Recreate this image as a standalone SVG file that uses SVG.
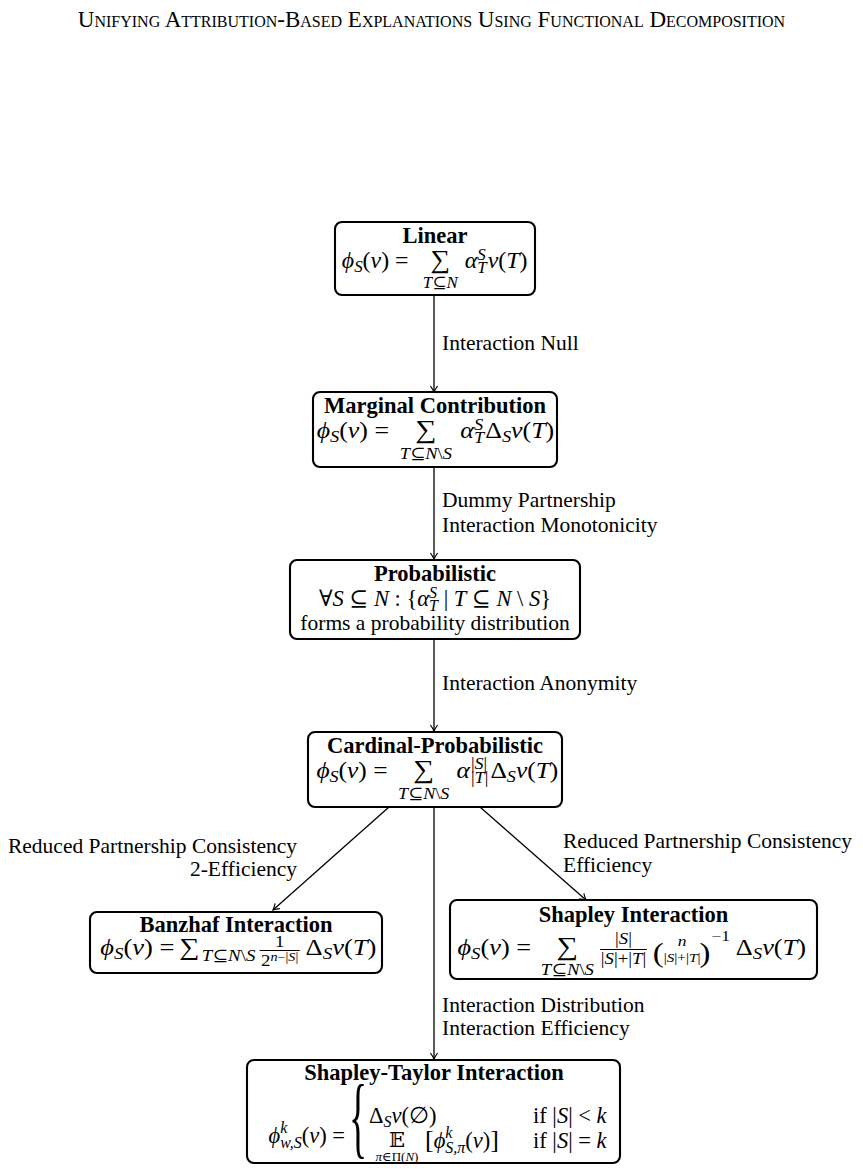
<svg xmlns="http://www.w3.org/2000/svg" width="863" height="1172" viewBox="0 0 863 1172">
<style>
.n{fill:none;stroke:#000;stroke-width:2.1}
.c{fill:none;stroke:#000;stroke-width:1.3}
.bar{stroke:#000;stroke-width:1}
text{font-family:'Liberation Serif','DejaVu Serif',serif;fill:#000}
.l{font-size:21.5px}
.h{font-size:22.5px;font-weight:bold}
.m{font-size:22.5px}
.i{font-style:italic}
.s{font-size:16px}
.f{font-size:15px}
.ss{font-size:11px}
.s2{font-size:12px}
.op{font-size:26px}
.op2{font-size:24px}
.hd{font-size:23px;font-variant:small-caps}
.bb{font-family:'DejaVu Serif','DejaVu Sans',serif;font-size:21px}
</style>
<defs>
<marker id="ah" viewBox="-7 -5 8 10" refX="0" refY="0" markerWidth="8" markerHeight="10" markerUnits="userSpaceOnUse" orient="auto">
<path d="M-6,-3.6 Q-2.4,-1 0,0 Q-2.4,1 -6,3.6" fill="none" stroke="#000" stroke-width="1.2"/>
</marker>
</defs>
<rect width="863" height="1172" fill="#fff"/>
<text class="hd" x="431.5" y="27" text-anchor="middle">Unifying Attribution-Based Explanations Using Functional Decomposition</text>

<g id="connectors">
<path class="c" d="M434 295 L434 392" marker-end="url(#ah)"/>
<path class="c" d="M434 467 L434 559" marker-end="url(#ah)"/>
<path class="c" d="M434 639 L434 731" marker-end="url(#ah)"/>
<path class="c" d="M389 807 L273 910" marker-end="url(#ah)"/>
<path class="c" d="M480 807 L586 900" marker-end="url(#ah)"/>
<path class="c" d="M434 807 L434 1059" marker-end="url(#ah)"/>
<text class="l" x="442" y="350">Interaction Null</text>
<text class="l" x="442" y="507">Dummy Partnership</text>
<text class="l" x="442" y="532">Interaction Monotonicity</text>
<text class="l" x="442" y="690">Interaction Anonymity</text>
<text class="l" x="297" y="853" text-anchor="end">Reduced Partnership Consistency</text>
<text class="l" x="297" y="876" text-anchor="end">2-Efficiency</text>
<text class="l" x="563" y="848">Reduced Partnership Consistency</text>
<text class="l" x="563" y="872">Efficiency</text>
<text class="l" x="442" y="1012">Interaction Distribution</text>
<text class="l" x="442" y="1035">Interaction Efficiency</text>
</g>

<g id="linear">
<rect class="n" x="335" y="222" width="200" height="73" rx="7"/>
<text class="h" x="435" y="243" text-anchor="middle">Linear</text>
<g transform="matrix(1.06 0 0 1 -26.1 0)">
<text class="m" x="410" y="268" text-anchor="end"><tspan class="i">ϕ</tspan><tspan class="s i" dy="4">S</tspan><tspan dy="-4">(</tspan><tspan class="i">v</tspan>) =</text>
<text class="op" x="440" y="268" text-anchor="middle">∑</text>
<text class="s" x="440" y="288" text-anchor="middle"><tspan class="i">T</tspan>⊆<tspan class="i">N</tspan></text>
<text class="m" x="463" y="268"><tspan class="i">α</tspan><tspan class="s i" dy="-8">S</tspan><tspan class="s i" dx="-8" dy="13">T</tspan><tspan class="i" dy="-5" dx="1">v</tspan>(<tspan class="i">T</tspan>)</text>
</g>
</g>

<g id="marginal">
<rect class="n" x="313" y="392" width="244" height="75" rx="7"/>
<text class="h" x="435" y="413" text-anchor="middle">Marginal Contribution</text>
<g transform="matrix(1.15 0 0 1 -65.25 0)">
<text class="m" x="395" y="438" text-anchor="end"><tspan class="i">ϕ</tspan><tspan class="s i" dy="4">S</tspan><tspan dy="-4">(</tspan><tspan class="i">v</tspan>) =</text>
<text class="op" x="427" y="438" text-anchor="middle">∑</text>
<text class="s" x="427" y="459" text-anchor="middle"><tspan class="i">T</tspan>⊆<tspan class="i">N</tspan>\<tspan class="i">S</tspan></text>
<text class="m" x="457" y="438"><tspan class="i">α</tspan><tspan class="s i" dy="-8">S</tspan><tspan class="s i" dx="-8" dy="13">T</tspan><tspan dy="-5" dx="1">Δ</tspan><tspan class="s i" dy="4">S</tspan><tspan class="i" dy="-4">v</tspan>(<tspan class="i">T</tspan>)</text>
</g>
</g>

<g id="probabilistic">
<rect class="n" x="290" y="560" width="290" height="79" rx="7"/>
<text class="h" x="435" y="581" text-anchor="middle">Probabilistic</text>
<text class="m" x="435" y="606" text-anchor="middle">∀<tspan class="i">S</tspan> ⊆ <tspan class="i">N</tspan> : {<tspan class="i">α</tspan><tspan class="s i" dy="-8">S</tspan><tspan class="s i" dx="-8" dy="13">T</tspan><tspan dy="-5"> | </tspan><tspan class="i">T</tspan> ⊆ <tspan class="i">N</tspan> \ <tspan class="i">S</tspan>}</text>
<text class="l" x="435" y="630" text-anchor="middle">forms a probability distribution</text>
</g>

<g id="cardinal">
<rect class="n" x="308" y="732" width="254" height="75" rx="7"/>
<text class="h" x="435" y="753" text-anchor="middle">Cardinal-Probabilistic</text>
<g transform="matrix(1.13 0 0 1 -56.55 0)">
<text class="m" x="393" y="778" text-anchor="end"><tspan class="i">ϕ</tspan><tspan class="s i" dy="4">S</tspan><tspan dy="-4">(</tspan><tspan class="i">v</tspan>) =</text>
<text class="op" x="425" y="778" text-anchor="middle">∑</text>
<text class="s" x="425" y="799" text-anchor="middle"><tspan class="i">T</tspan>⊆<tspan class="i">N</tspan>\<tspan class="i">S</tspan></text>
<text class="m" x="454" y="778"><tspan class="i">α</tspan><tspan class="s" dy="-9" dx="1">|<tspan class="i">S</tspan>|</tspan><tspan class="s" dx="-14.4" dy="14">|<tspan class="i">T</tspan>|</tspan><tspan dy="-5" dx="2">Δ</tspan><tspan class="s i" dy="4">S</tspan><tspan class="i" dy="-4">v</tspan>(<tspan class="i">T</tspan>)</text>
</g>
</g>

<g id="banzhaf">
<rect class="n" x="90" y="912" width="292" height="61" rx="7"/>
<text class="h" x="236" y="932" text-anchor="middle">Banzhaf Interaction</text>
<g transform="matrix(1.18 0 0 1 -42.48 0)">
<text class="m" x="121" y="955"><tspan class="i">ϕ</tspan><tspan class="s i" dy="4">S</tspan><tspan dy="-4">(</tspan><tspan class="i">v</tspan>) =</text>
<text class="op2" x="188" y="955">∑</text>
<text class="s" x="207" y="961"><tspan class="i">T</tspan>⊆<tspan class="i">N</tspan>\<tspan class="i">S</tspan></text>
<text class="s" x="273" y="947" text-anchor="middle">1</text>
<line class="bar" x1="256" y1="950.5" x2="290" y2="950.5"/>
<text class="s" x="273" y="966" text-anchor="middle">2<tspan class="s2" dy="-5"><tspan class="i">n</tspan>−|<tspan class="i">S</tspan>|</tspan></text>
<text class="m" x="295" y="955">Δ<tspan class="s i" dy="4">S</tspan><tspan class="i" dy="-4">v</tspan>(<tspan class="i">T</tspan>)</text>
</g>
</g>

<g id="shapley">
<rect class="n" x="450" y="900" width="367" height="79" rx="7"/>
<text class="h" x="633.5" y="922" text-anchor="middle">Shapley Interaction</text>
<g transform="matrix(1.17 0 0 1 -107.7 0)">
<text class="m" x="546" y="955" text-anchor="end"><tspan class="i">ϕ</tspan><tspan class="s i" dy="4">S</tspan><tspan dy="-4">(</tspan><tspan class="i">v</tspan>) =</text>
<text class="op" x="577" y="955" text-anchor="middle">∑</text>
<text class="s" x="577" y="975" text-anchor="middle"><tspan class="i">T</tspan>⊆<tspan class="i">N</tspan>\<tspan class="i">S</tspan></text>
<text class="s" x="625" y="944" text-anchor="middle">|<tspan class="i">S</tspan>|</text>
<line class="bar" x1="605" y1="949.5" x2="645" y2="949.5"/>
<text class="s" x="625" y="964" text-anchor="middle">|<tspan class="i">S</tspan>|+|<tspan class="i">T</tspan>|</text>
<text style="font-size:28px" x="650" y="962">(</text>
<text class="f i" x="675" y="946" text-anchor="middle">n</text>
<text style="font-size:13px" x="675" y="962" text-anchor="middle">|<tspan class="i">S</tspan>|+|<tspan class="i">T</tspan>|</text>
<text style="font-size:28px" x="690" y="962">)</text>
<text class="f" x="700" y="941">−1</text>
<text class="m" x="721" y="955">Δ<tspan class="s i" dy="4">S</tspan><tspan class="i" dy="-4">v</tspan>(<tspan class="i">T</tspan>)</text>
</g>
</g>

<g id="shapley-taylor">
<rect class="n" x="247" y="1060" width="373" height="103" rx="7"/>
<text class="h" x="434" y="1080" text-anchor="middle">Shapley-Taylor Interaction</text>
<text class="m" x="345" y="1143" text-anchor="end"><tspan class="i">ϕ</tspan><tspan class="s i" dy="-10">k</tspan><tspan class="s i" dx="-7.1" dy="15">w,S</tspan><tspan dy="-5">(</tspan><tspan class="i">v</tspan>) =</text>
<text style="font-size:90px" transform="translate(349 1147) scale(0.42 1)" x="0" y="0">{</text>
<text class="m" x="369" y="1123">Δ<tspan class="s i" dy="4">S</tspan><tspan class="i" dy="-4">v</tspan>(∅)</text>
<text class="m" x="533" y="1123">if |<tspan class="i">S</tspan>| &lt; <tspan class="i">k</tspan></text>
<text class="bb" x="397" y="1147" text-anchor="middle">𝔼</text>
<text style="font-size:13px" x="397" y="1161" text-anchor="middle"><tspan class="i">π</tspan>∈Π(<tspan class="i">N</tspan>)</text>
<text class="m" x="425" y="1148"><tspan style="font-size:26px">[</tspan><tspan class="i">ϕ</tspan><tspan class="s i" dy="-10">k</tspan><tspan class="s i" dx="-7.1" dy="15">S,π</tspan><tspan dy="-5">(</tspan><tspan class="i">v</tspan>)<tspan style="font-size:26px">]</tspan></text>
<text class="m" x="533" y="1148">if |<tspan class="i">S</tspan>| = <tspan class="i">k</tspan></text>
</g>
</svg>
